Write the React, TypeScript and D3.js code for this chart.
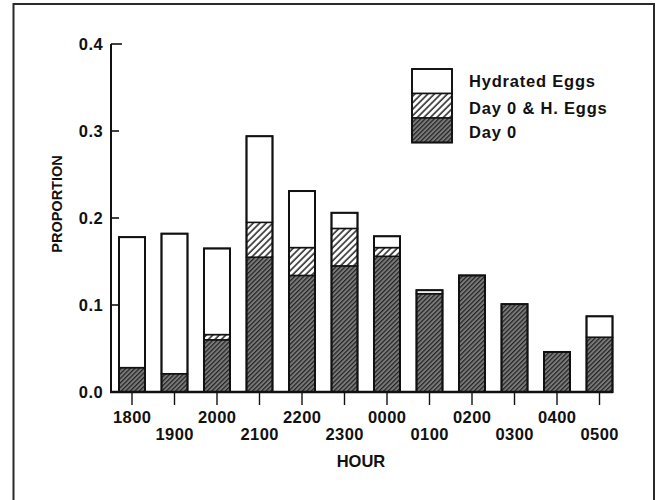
import React from 'react';
import * as d3 from 'd3';

const hours = ['1800', '1900', '2000', '2100', '2200', '2300', '0000', '0100', '0200', '0300', '0400', '0500'];
const day0 = [0.028, 0.021, 0.060, 0.155, 0.134, 0.145, 0.156, 0.113, 0.134, 0.101, 0.046, 0.063];
const day0AndHydrated = [0, 0, 0.006, 0.040, 0.032, 0.043, 0.010, 0, 0, 0, 0, 0];
const hydratedOnly = [0.150, 0.161, 0.099, 0.099, 0.065, 0.018, 0.013, 0.004, 0, 0, 0, 0.024];
const yTicks = [0, 0.1, 0.2, 0.3, 0.4];
const seriesKeys = ['day0', 'both', 'hydrated'];
const legendLabels = ['Hydrated Eggs', 'Day 0 & H. Eggs', 'Day 0'];

const W = 657;
const H = 500;
const FONT = '"Liberation Sans", Arial, Helvetica, sans-serif';

export default function App() {
  const rows = hours.map((h, i) => ({
    hour: h,
    day0: day0[i],
    both: day0AndHydrated[i],
    hydrated: hydratedOnly[i],
  }));
  const stacked = d3.stack<any>().keys(seriesKeys)(rows);

  const x = d3.scaleBand<string>().domain(hours).range([111, 620.5]).paddingInner(0.388).paddingOuter(0.188);
  const y = d3.scaleLinear().domain([0, 0.4]).range([392, 44]);
  const fills: Record<string, string> = {
    day0: 'url(#patDay0)',
    both: 'url(#patBoth)',
    hydrated: '#ffffff',
  };
  const fmt = d3.format('.1f');
  const baseY = y(0);

  const legendX = 412;
  const legendTop = 69;
  const legendH = 24.5;
  const legendOrder = ['hydrated', 'both', 'day0'];
  const legendBaselines = [87, 113.5, 138];

  return (
    <svg width={W} height={H} style={{ position: 'absolute', left: 0, top: 0, background: '#fff' }}
      fontFamily={FONT}>
      <defs>
        <pattern id="patDay0" patternUnits="userSpaceOnUse" width={3.2} height={3.2}
          patternTransform="rotate(45)">
          <rect width={3.2} height={3.2} fill="#7a7a7a" />
          <line x1={0.6} y1={0} x2={0.6} y2={3.2} stroke="#222" strokeWidth={1.25} />
        </pattern>
        <pattern id="patBoth" patternUnits="userSpaceOnUse" width={4.6} height={4.6}
          patternTransform="rotate(45)">
          <rect width={4.6} height={4.6} fill="#ffffff" />
          <line x1={1} y1={0} x2={1} y2={4.6} stroke="#111" strokeWidth={1.4} />
        </pattern>
      </defs>

      {/* outer frame */}
      <path d={`M13.5,${H} V4 H654 V${H}`} fill="none" stroke="#2a2a2a" strokeWidth={2} />

      {/* bars */}
      {stacked.map((s) => (
        <g key={s.key}>
          {s.map((d, i) => {
            const h = y(d[0]) - y(d[1]);
            if (h <= 0.01) return null;
            return (
              <rect key={i} x={x(hours[i])} y={y(d[1])} width={x.bandwidth()} height={h}
                fill={fills[s.key]} stroke="#111" strokeWidth={1.5} />
            );
          })}
        </g>
      ))}
      {hours.map((h, i) => {
        const top = stacked[stacked.length - 1][i][1];
        return (
          <rect key={h} x={x(h)} y={y(top)} width={x.bandwidth()} height={baseY - y(top)}
            fill="none" stroke="#111" strokeWidth={2} />
        );
      })}

      {/* y axis */}
      <line x1={111} y1={y(0.4)} x2={111} y2={baseY} stroke="#111" strokeWidth={2} />
      {yTicks.map((t) => (
        <g key={t}>
          <line x1={111} x2={t === 0.4 ? 122 : 119} y1={y(t)} y2={y(t)} stroke="#111" strokeWidth={1.6} />
          <text x={103} y={y(t) + 5.8} textAnchor="end" fontSize={16.5} fontWeight="bold"
            letterSpacing={0.4} fill="#111">{fmt(t)}</text>
        </g>
      ))}
      <text transform={`translate(62,204) rotate(-90)`} textAnchor="middle" fontSize={14.5}
        fontWeight="bold" fill="#111">PROPORTION</text>

      {/* x axis */}
      <line x1={110} x2={613} y1={baseY} y2={baseY} stroke="#111" strokeWidth={2.6} />
      {hours.map((h, i) => {
        const cx = (x(h) as number) + x.bandwidth() / 2;
        return (
          <g key={h}>
            <line x1={cx} x2={cx} y1={baseY} y2={405} stroke="#111" strokeWidth={1.4} />
            <text x={cx + 0.2} y={i % 2 === 0 ? 423 : 440} textAnchor="middle" fontSize={16.5}
              fontWeight="bold" letterSpacing={0.4} fill="#111">{h}</text>
          </g>
        );
      })}
      <text x={361} y={467} textAnchor="middle" fontSize={16.5} fontWeight="bold"
        fill="#111">HOUR</text>

      {/* legend */}
      {legendOrder.map((k, i) => (
        <g key={k}>
          <rect x={legendX} y={legendTop + i * legendH} width={40} height={legendH}
            fill={fills[k]} stroke="#111" strokeWidth={1.5} />
          <text x={469} y={legendBaselines[i]} fontSize={16.5} fontWeight="bold"
            letterSpacing={0.8} fill="#111">{legendLabels[i]}</text>
        </g>
      ))}
      <rect x={legendX} y={legendTop} width={40} height={legendH * 3} fill="none" stroke="#111" strokeWidth={1.8} />
    </svg>
  );
}
